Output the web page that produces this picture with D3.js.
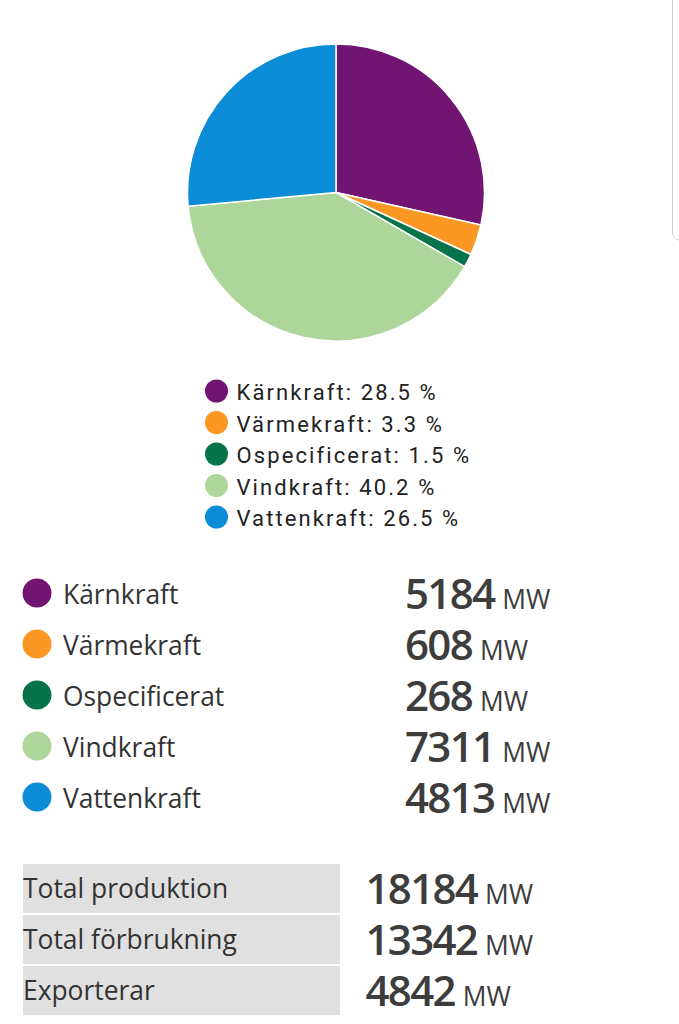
<!DOCTYPE html>
<html>
<head>
<meta charset="utf-8">
<script src="https://d3js.org/d3.v7.min.js"></script>
<style>
  html, body { margin: 0; padding: 0; background: #fff; }
  svg { display: block; }
</style>
</head>
<body>
<svg width="679" height="1024"></svg>
<script>
const categories = ["Kärnkraft", "Värmekraft", "Ospecificerat", "Vindkraft", "Vattenkraft"];
const values = [5184, 608, 268, 7311, 4813];
const percents = ["28.5", "3.3", "1.5", "40.2", "26.5"];
const colors = ["#721472", "#fb9722", "#06734a", "#aed69b", "#0a8cd6"];
const totalLabels = ["Total produktion", "Total förbrukning", "Exporterar"];
const totalValues = [18184, 13342, 4842];

const svg = d3.select("svg");
const colorOf = d3.scaleOrdinal().domain(categories).range(colors);

// scrollbar edge top right
svg.append("path")
  .attr("d", "M672.5,0V232Q672.5,239 679,240")
  .attr("fill", "none")
  .attr("stroke", "#d2d2d2")
  .attr("stroke-width", 1);

// Pie
const pie = d3.pie().sort(null).value(d => d.value);
const arc = d3.arc().innerRadius(0).outerRadius(148.5);
const pieData = categories.map((c, i) => ({ name: c, value: values[i] }));

svg.append("g")
  .attr("transform", "translate(336,192.5)")
  .selectAll("path")
  .data(pie(pieData))
  .join("path")
  .attr("d", arc)
  .attr("fill", d => colorOf(d.data.name))
  .attr("stroke", "#fff")
  .attr("stroke-width", 1.5);

// Small legend under the pie
const legendY = d3.scalePoint().domain(categories).range([391, 517]);
const legend = svg.append("g").selectAll("g")
  .data(categories)
  .join("g")
  .attr("transform", d => `translate(0,${legendY(d)})`);

legend.append("circle")
  .attr("cx", 216.5)
  .attr("r", 11.5)
  .attr("fill", d => colorOf(d));

legend.append("text")
  .attr("x", 236.5)
  .attr("y", 9)
  .style("font-family", "Roboto")
  .style("font-size", "22px")
  .style("letter-spacing", "2.1px")
  .style("fill", "#222")
  .text((d, i) => `${d}: ${percents[i]} %`);

// Rows with the MW values
const rowY = d3.scalePoint().domain(categories).range([593, 797]);
const rows = svg.append("g").selectAll("g")
  .data(categories)
  .join("g")
  .attr("transform", d => `translate(0,${rowY(d)})`);

rows.append("circle")
  .attr("cx", 37)
  .attr("r", 14.5)
  .attr("fill", d => colorOf(d));

rows.append("text")
  .attr("x", 63)
  .attr("y", 11)
  .style("font-family", "Open Sans")
  .style("font-size", "26.4px")
  .style("fill", "#333")
  .text(d => d);

function addValue(sel, x, y, fn) {
  const t = sel.append("text")
    .attr("x", x)
    .attr("y", y)
    .style("font-family", "Open Sans")
    .style("fill", "#3d3d3d");
  t.append("tspan")
    .style("font-size", "42px")
    .style("font-weight", 600)
    .style("letter-spacing", "-1.7px")
    .text(fn);
  t.append("tspan")
    .attr("dx", 8)
    .style("font-size", "26.4px")
    .text("MW");
}
addValue(rows, 405, 16, (d, i) => values[i]);

// Totals table
const totalY = d3.scaleBand().domain(totalLabels).range([864, 1015]).paddingInner(0.04).paddingOuter(0);
const totals = svg.append("g").selectAll("g")
  .data(totalLabels)
  .join("g")
  .attr("transform", d => `translate(0,${totalY(d)})`);

totals.append("rect")
  .attr("x", 23)
  .attr("width", 317)
  .attr("height", totalY.bandwidth())
  .attr("fill", "#e0e0e0");

totals.append("text")
  .attr("x", 23)
  .attr("y", 34)
  .style("font-family", "Open Sans")
  .style("font-size", "26.4px")
  .style("fill", "#333")
  .text(d => d);

addValue(totals, 365.5, 40, (d, i) => totalValues[i]);
</script>
</body>
</html>
